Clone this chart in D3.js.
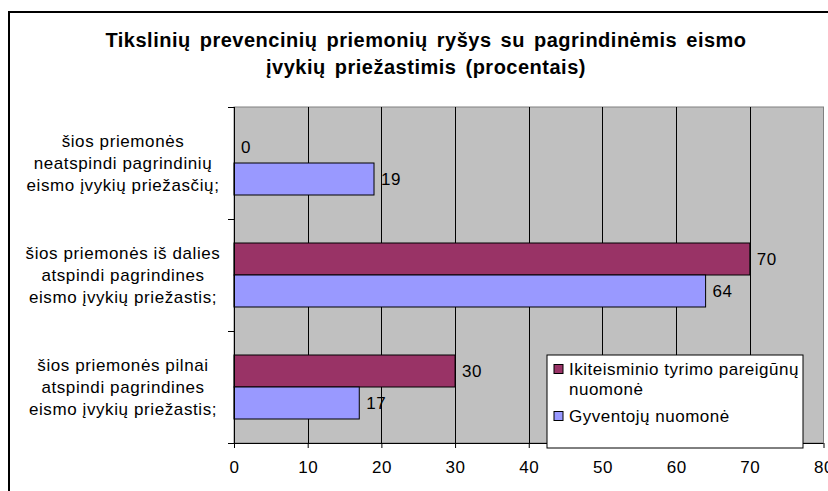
<!DOCTYPE html>
<html>
<head>
  <meta charset="utf-8">
  <title>Tikslinių prevencinių priemonių ryšys</title>
  <script src="https://cdn.jsdelivr.net/npm/d3@7/dist/d3.min.js"></script>
  <style>
    body { margin: 0; background: #fff; }
    svg { display: block; font-family: "Liberation Sans", Arial, sans-serif; }
  </style>
</head>
<body>
  <svg width="828" height="491"></svg>

  <script>
    // duomenys
    const categories = [
      ["šios priemonės", "neatspindi pagrindinių", "eismo įvykių priežasčių;"],
      ["šios priemonės iš dalies", "atspindi pagrindines", "eismo įvykių priežastis;"],
      ["šios priemonės pilnai", "atspindi pagrindines", "eismo įvykių priežastis;"]
    ];
    const officials = [0, 70, 30];
    const residents = [19, 64, 17];
    const seriesNames = [["Ikiteisminio tyrimo pareigūnų", "nuomonė"], ["Gyventojų nuomonė"]];
    const seriesColors = ["#993366", "#9999ff"];
    const xTicks = [0, 10, 20, 30, 40, 50, 60, 70, 80];
    const titleLines = ["Tikslinių prevencinių priemonių ryšys su pagrindinėmis eismo", "įvykių priežastimis (procentais)"];

    const series = [officials, residents];

    const svg = d3.select("svg");
    const plot = { left: 234, right: 823.5, top: 107, bottom: 443 };
    const fs = 17;
    const ls = "0.5px";

    // rėmelis
    svg.append("rect")
      .attr("x", 9).attr("y", 12)
      .attr("width", 900).attr("height", 600)
      .attr("fill", "#fff")
      .attr("stroke", "#000")
      .attr("stroke-width", 2);

    // pavadinimas
    svg.append("text")
      .attr("text-anchor", "middle")
      .attr("font-weight", "bold")
      .attr("font-size", 20)
      .style("letter-spacing", "0.5px")
      .style("word-spacing", "3px")
      .selectAll("tspan")
      .data(titleLines)
      .join("tspan")
      .attr("x", 426)
      .attr("y", (d, i) => 46.5 + i * 27)
      .text(d => d);

    const x = d3.scaleLinear()
      .domain([0, 80])
      .range([plot.left, plot.right]);

    const y = d3.scaleBand()
      .domain(d3.range(categories.length))
      .range([plot.top, plot.bottom])
      .paddingInner(0.4286)
      .paddingOuter(0.2143);

    const ySub = d3.scaleBand()
      .domain(d3.range(series.length))
      .range([0, y.bandwidth()]);

    // fonas
    svg.append("rect")
      .attr("x", plot.left).attr("y", plot.top)
      .attr("width", plot.right - plot.left)
      .attr("height", plot.bottom - plot.top)
      .attr("fill", "#c0c0c0")
      .attr("stroke", "#808080");

    // tinklelis
    svg.append("g")
      .selectAll("line")
      .data(xTicks.slice(1, -1))
      .join("line")
      .attr("x1", d => Math.round(x(d)) + 0.5)
      .attr("x2", d => Math.round(x(d)) + 0.5)
      .attr("y1", plot.top)
      .attr("y2", plot.bottom)
      .attr("stroke", "#000");

    // stulpeliai
    const groups = svg.append("g")
      .selectAll("g")
      .data(categories.map((c, i) => i))
      .join("g")
      .attr("transform", i => `translate(0,${y(i)})`);

    groups.selectAll("rect")
      .data(i => series.map((s, k) => ({ k, v: s[i] })))
      .join("rect")
      .attr("x", x(0))
      .attr("y", d => ySub(d.k))
      .attr("width", d => x(d.v) - x(0))
      .attr("height", ySub.bandwidth())
      .attr("fill", d => seriesColors[d.k])
      .attr("stroke", "#000")
      .attr("stroke-width", 1);

    groups.selectAll("text")
      .data(i => series.map((s, k) => ({ k, v: s[i] })))
      .join("text")
      .attr("x", d => x(d.v) + 7)
      .attr("y", d => ySub(d.k) + ySub.bandwidth() / 2)
      .attr("dy", "0.36em")
      .attr("font-size", fs)
      .style("letter-spacing", ls)
      .attr("fill", "#000")
      .text(d => d.v);

    // x ašis
    const xAxis = svg.append("g")
      .attr("transform", `translate(0,${plot.bottom})`)
      .call(d3.axisBottom(x).tickValues(xTicks).tickSize(5).tickSizeOuter(0).tickPadding(13));
    xAxis.select(".domain").remove();
    xAxis.selectAll("text")
      .attr("font-size", fs)
      .attr("font-family", null)
      .style("letter-spacing", ls)
      .attr("fill", "#000");
    xAxis.selectAll("line").attr("stroke", "#000");

    svg.append("line")
      .attr("x1", plot.left - 6).attr("x2", plot.right)
      .attr("y1", plot.bottom + 0.5).attr("y2", plot.bottom + 0.5)
      .attr("stroke", "#000");

    // y ašis
    svg.append("line")
      .attr("x1", plot.left + 0.5).attr("x2", plot.left + 0.5)
      .attr("y1", plot.top).attr("y2", plot.bottom + 5)
      .attr("stroke", "#000");

    svg.append("g")
      .selectAll("line")
      .data(d3.range(categories.length + 1))
      .join("line")
      .attr("x1", plot.left - 6).attr("x2", plot.left)
      .attr("y1", i => Math.round(plot.top + i * y.step()) + 0.5)
      .attr("y2", i => Math.round(plot.top + i * y.step()) + 0.5)
      .attr("stroke", "#000");

    svg.append("g")
      .selectAll("text")
      .data(categories.map((c, i) => i))
      .join("text")
      .attr("text-anchor", "middle")
      .attr("font-size", fs)
      .style("letter-spacing", "0.6px")
      .selectAll("tspan")
      .data(i => categories[i].map((line, j) => ({ i, j, line })))
      .join("tspan")
      .attr("x", 123)
      .attr("y", d => y(d.i) + y.bandwidth() / 2 + (d.j - 1) * 21.7)
      .attr("dy", "0.36em")
      .text(d => d.line);

    // legenda
    const legend = svg.append("g").attr("transform", "translate(547,355)");
    legend.append("rect")
      .attr("width", 256).attr("height", 93)
      .attr("fill", "#fff")
      .attr("stroke", "#000");

    const legendY = [14, 61];
    const items = legend.selectAll("g")
      .data(seriesNames)
      .join("g")
      .attr("transform", (d, i) => `translate(0,${legendY[i]})`);
    items.append("rect")
      .attr("x", 7).attr("y", -4.5)
      .attr("width", 9).attr("height", 9)
      .attr("fill", (d, i) => seriesColors[i])
      .attr("stroke", "#000");
    items.append("text")
      .attr("font-size", fs)
      .style("letter-spacing", ls)
      .selectAll("tspan")
      .data(d => d)
      .join("tspan")
      .attr("x", 22)
      .attr("y", (d, j) => j * 20)
      .attr("dy", "0.36em")
      .text(d => d);
  </script>
</body>
</html>
